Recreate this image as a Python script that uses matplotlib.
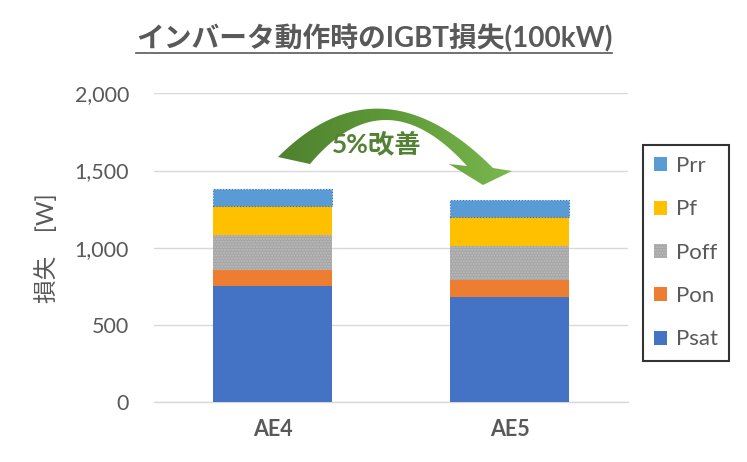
import numpy as np
import matplotlib.pyplot as plt
from matplotlib.path import Path
from matplotlib.patches import PathPatch
from matplotlib.lines import Line2D
from matplotlib.colors import LinearSegmentedColormap

plt.rcParams['font.family'] = ['Lato', 'Noto Sans CJK JP', 'DejaVu Sans']

categories = ['AE4', 'AE5']
series = ['Psat', 'Pon', 'Poff', 'Pf', 'Prr']
psat = [755, 682]
pon = [103, 112]
poff = [225, 218]
pf = [189, 187]
prr = [109, 110]
values = [psat, pon, poff, pf, prr]
colors = ['#4472C4', '#ED7D31', '#A5A5A5', '#FFC000', '#5B9BD5']
yticks = [0, 500, 1000, 1500, 2000]

title = 'インバータ動作時のIGBT損失(100kW)'
ylabel = '損失\u3000[W]'
note = '5%改善'

txt = '#595959'
W, H = 747, 462

fig = plt.figure(figsize=(7.47, 4.62), dpi=100)
ax = fig.add_axes([154 / W, 1 - 402.3 / H, (628 - 154) / W, (402.3 - 93.3) / H])

x = np.arange(len(categories))
bottom = np.zeros(len(categories))
for name, vals, c in zip(series, values, colors):
    if name == 'Poff':
        ax.bar(x, vals, 0.5, bottom=bottom, color=c, edgecolor='#BDBDBD',
               linewidth=0, hatch='......', zorder=3)
    elif name == 'Prr':
        ax.bar(x, vals, 0.5, bottom=bottom, color=c, edgecolor='#2E75B6',
               linewidth=0.8, linestyle=':', zorder=3)
    else:
        ax.bar(x, vals, 0.5, bottom=bottom, color=c, linewidth=0, zorder=3)
    bottom += np.array(vals)

ax.set_xlim(-0.5, len(categories) - 0.5)
ax.set_ylim(0, 2000)
ax.set_yticks(yticks)
ax.set_yticklabels([f'{v:,}' for v in yticks])
ax.set_xticks(x)
ax.set_xticklabels(categories, fontweight='bold')
ax.tick_params(axis='y', length=0, pad=18, labelsize=15.5, labelcolor=txt)
ax.tick_params(axis='x', length=0, pad=12, labelsize=15.5, labelcolor=txt)
ax.grid(axis='y', color='#D9D9D9', linewidth=1, zorder=0)
for s in ['top', 'right', 'left']:
    ax.spines[s].set_visible(False)
ax.spines['bottom'].set_color('#D9D9D9')
ax.spines['bottom'].set_linewidth(1)

fig.text(47 / W, 1 - 248 / H, ylabel, rotation=90, ha='center', va='center',
         fontsize=17, color=txt)

# title with underline
fig.text(374 / W, 1 - 38 / H, title, ha='center', va='center',
         fontsize=20, fontweight='bold', color=txt)
fig.add_artist(Line2D([136 / W, 612 / W], [1 - 53 / H, 1 - 53 / H],
                      color=txt, linewidth=1.2))

# legend box
leg_handles = [plt.Rectangle((0, 0), 1, 1, facecolor=colors[i],
                             hatch='......' if series[i] == 'Poff' else None,
                             edgecolor='#BDBDBD' if series[i] == 'Poff' else colors[i],
                             linewidth=0)
               for i in range(len(series) - 1, -1, -1)]
leg = fig.legend(leg_handles, series[::-1], loc='upper left',
                 bbox_to_anchor=(643 / W, 1 - 145 / H), frameon=True,
                 fontsize=16, labelcolor=txt, handlelength=0.6, handleheight=0.6,
                 handletextpad=0.4, labelspacing=1.05, borderpad=0.5,
                 borderaxespad=0, fancybox=False)
leg.get_frame().set_edgecolor('black')
leg.get_frame().set_linewidth(1.5)

# curved arrow overlay in pixel coordinates
ov = fig.add_axes([0, 0, 1, 1], zorder=5)
ov.axis('off')


def qbez(p0, p1, p2, n=40):
    t = np.linspace(0, 1, n)[:, None]
    return (1 - t) ** 2 * np.array(p0) + 2 * (1 - t) * t * np.array(p1) + t ** 2 * np.array(p2)


outer = qbez((278, 157), (380, 55), (493, 168))
inner = qbez((467, 166), (385, 75), (310, 164))
head = np.array([(512, 171), (483, 185), (449, 164)])
pts = np.vstack([outer, head, inner, [(278, 157)]])
codes = [Path.MOVETO] + [Path.LINETO] * (len(pts) - 2) + [Path.CLOSEPOLY]
arrow = PathPatch(Path(pts, codes), facecolor='none', edgecolor='none')
ov.add_patch(arrow)
grad = np.linspace(0, 1, 256)[None, :]
cmap = LinearSegmentedColormap.from_list('g', ['#4E7F2E', '#5E9A38', '#7BB84F'])
im = ov.imshow(grad, cmap=cmap, extent=(270, 515, 190, 100), aspect='auto',
               interpolation='bilinear')
im.set_clip_path(arrow)
ov.set_xlim(0, W)
ov.set_ylim(H, 0)

ov.text(377, 144, note, ha='center', va='center', fontsize=19,
        fontweight='bold', color='#548235')

fig.savefig('out.png', dpi=100)
